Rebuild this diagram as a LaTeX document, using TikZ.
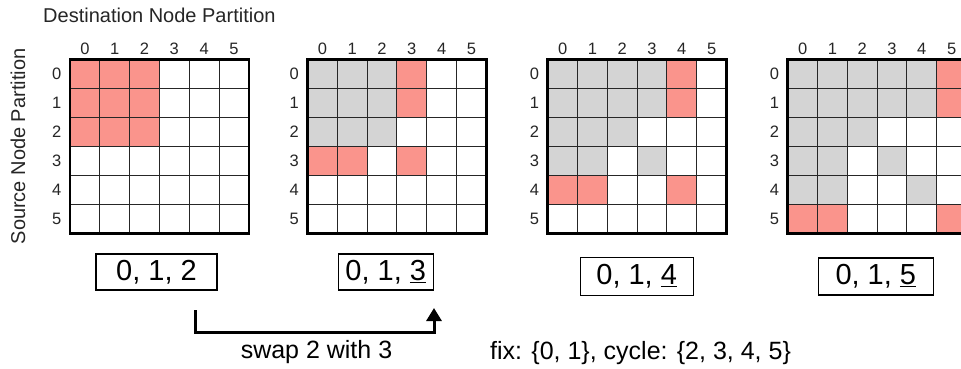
\documentclass[tikz,border=0pt]{standalone}
\usepackage{fontspec}
\setmainfont{Liberation Sans}
\usetikzlibrary{arrows.meta}
\definecolor{hot}{RGB}{250,148,140}
\definecolor{done}{RGB}{212,212,212}
\newcommand\gcell[4]{\fill[#4] ({#1+#3*29.8},{59.5+#2*29}) rectangle ++(29.8,29);}
\newcommand\ggrid[1]{%
  \foreach \k in {1,...,5} {
    \draw[gridline] ({#1+\k*29.8},59.5) -- ++(0,174);
    \draw[gridline] (#1,{59.5+\k*29}) -- ++(178.8,0);
  }
  \draw[gridborder] (#1,59.5) rectangle ++(178.8,174);
  \foreach \k in {0,...,5} {
    \node[lab] at ({#1+(\k+0.5)*29.8},48.5) {\k};
    \node[lab] at ({#1-13.3},{59.5+(\k+0.5)*29}) {\k};
  }}
\tikzset{
  gridline/.style={line width=0.9pt, draw=black!85},
  gridborder/.style={line width=2.6pt, draw=black},
  lab/.style={font=\fontsize{16.5}{16.5}\selectfont, inner sep=0pt, text=black!85},
  permbox/.style={draw, line width=1.2pt, font=\fontsize{29}{29}\selectfont, inner sep=0pt, align=center},
  caption/.style={font=\fontsize{25}{25}\selectfont, inner sep=0pt}
}
\begin{document}
\begin{tikzpicture}[x=1pt,y=-1pt]
\clip (0,0) rectangle (961,368);
\fill[white] (0,0) rectangle (961,368);
% grid 1
\foreach \i in {0,1,2} \foreach \j in {0,1,2} {\gcell{70}{\i}{\j}{hot}}
% grid 2
\foreach \i in {0,1,2} \foreach \j in {0,1,2} {\gcell{307.5}{\i}{\j}{done}}
\foreach \i/\j in {0/3,1/3,3/0,3/1,3/3} {\gcell{307.5}{\i}{\j}{hot}}
% grid 3
\foreach \i/\j in {0/0,0/1,0/2,0/3,1/0,1/1,1/2,1/3,2/0,2/1,2/2,3/0,3/1,3/3} {\gcell{547.7}{\i}{\j}{done}}
\foreach \i/\j in {0/4,1/4,4/0,4/1,4/4} {\gcell{547.7}{\i}{\j}{hot}}
% grid 4
\foreach \i/\j in {0/0,0/1,0/2,0/3,0/4,1/0,1/1,1/2,1/3,1/4,2/0,2/1,2/2,3/0,3/1,3/3,4/0,4/1,4/4} {\gcell{787.7}{\i}{\j}{done}}
\foreach \i/\j in {0/5,1/5,5/0,5/1,5/5} {\gcell{787.7}{\i}{\j}{hot}}
\ggrid{70}
\ggrid{307.5}
\ggrid{547.7}
\ggrid{787.7}
% titles
\node[anchor=west, inner sep=0pt, font=\fontsize{20}{20}\selectfont, text=black!85] (dst) at (43,15) {Destination Node Partition};
\node[rotate=90, inner sep=0pt, font=\fontsize{20}{20}\selectfont, text=black!85] (src) at (18,146.5) {Source Node Partition};
% permutation boxes
\node[permbox, minimum width=121pt, minimum height=36pt] (b1) at (156.5,272) {0, 1, 2};
\node[permbox, minimum width=95pt, minimum height=36pt] (b2) at (385.8,272) {0, 1, \underline{3}};
\node[permbox, minimum width=113pt, minimum height=38pt] (b3) at (636.7,276.5) {0, 1, \underline{4}};
\node[permbox, minimum width=115pt, minimum height=37pt] (b4) at (875.8,276.5) {0, 1, \underline{5}};
% swap arrow
\coordinate (s0) at (195,310);
\coordinate (s2) at (434,332);
\coordinate (s1) at (434,308);
\draw[line width=3pt, -{Triangle[width=15pt,length=13pt]}] (s0) |- (s2) -- (s1);
\node[caption] (swap) at (316.5,352) {swap 2 with 3};
\node[caption, anchor=west] (fix) at (490,353) {fix: \{0, 1\}, cycle: \{2, 3, 4, 5\}};
\end{tikzpicture}
\end{document}
